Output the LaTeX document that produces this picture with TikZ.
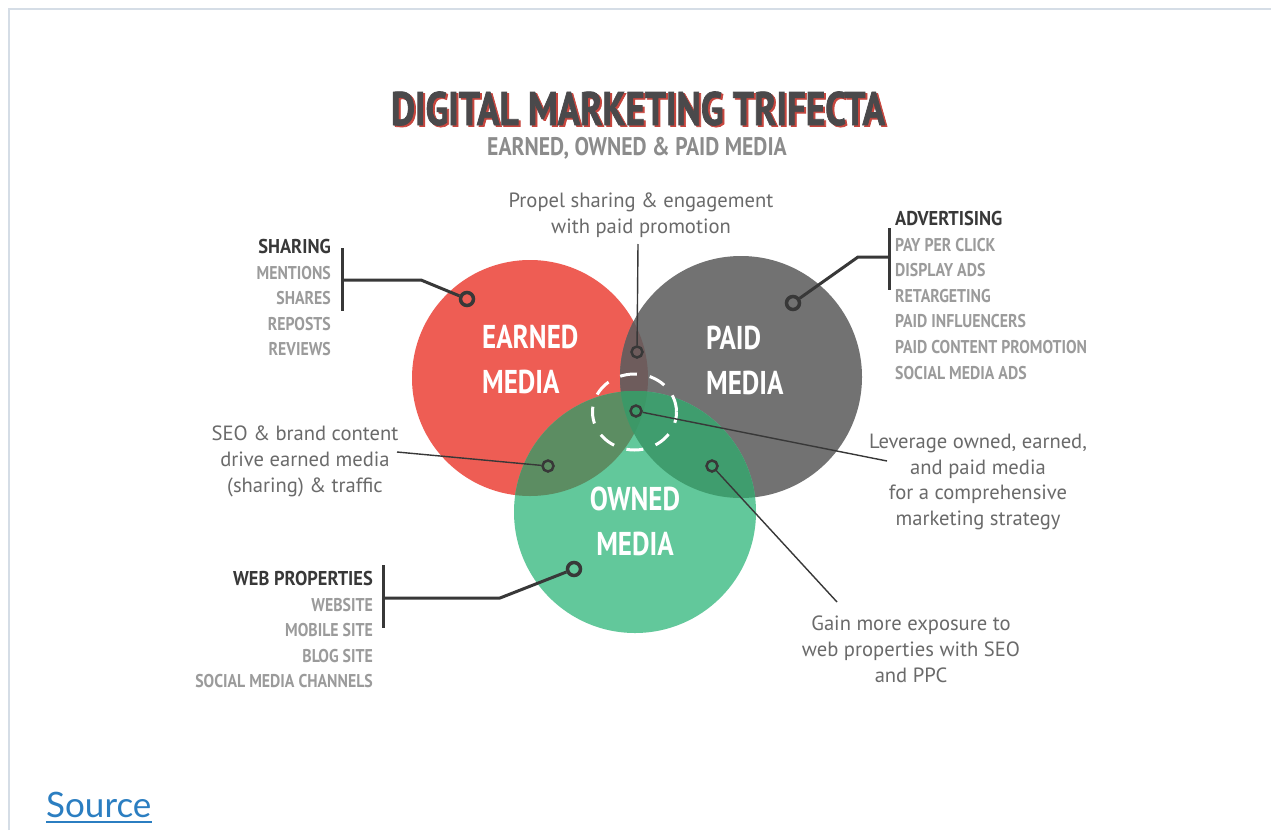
\documentclass[tikz,border=0pt]{standalone}
\usepackage{fontspec}
\setmainfont{PT Sans}
\newfontfamily\condf{PT Sans Bold}[FakeStretch=0.855]
\newfontfamily\headf{PT Sans Bold}[FakeStretch=0.92]
\newfontfamily\labf{PT Sans Bold}[FakeStretch=0.82]
\newfontfamily\titlef{PT Sans Bold}[FakeStretch=0.79,FakeBold=1.5]
\newfontfamily\subf{PT Sans Bold}[FakeStretch=0.85]
\newfontfamily\linkf{Lato}
\definecolor{cred}{HTML}{EE5D54}
\definecolor{cgrey}{HTML}{727272}
\definecolor{cgreen}{HTML}{62C89B}
\definecolor{crg}{HTML}{6E5C5C}
\definecolor{cre}{HTML}{5C8D62}
\definecolor{cge}{HTML}{3F9D6E}
\definecolor{call}{HTML}{3C9867}
\definecolor{dark}{HTML}{383838}
\definecolor{body}{HTML}{6A6A6A}
\definecolor{item}{HTML}{9B9B9B}
\definecolor{ttl}{HTML}{4A494B}
\definecolor{ttlred}{HTML}{C8463E}
\definecolor{subc}{HTML}{8C8C8C}
\definecolor{frame}{HTML}{D5DDE6}
\definecolor{linkc}{HTML}{2B7EC1}
\newcommand{\trifectatitle}{DIGITAL MARKETING TRIFECTA}
\newcommand{\lhead}[1]{\textcolor{dark}{\headf\fontsize{20}{25.6}\selectfont #1}}
\tikzset{
  bodytext/.style={inner sep=0pt, align=center, text=body, font=\fontsize{20.6}{25.6}\selectfont},
  listtext/.style={inner sep=0pt, text=item, font=\condf\fontsize{18.5}{25.6}\selectfont},
  circlab/.style={inner sep=0pt, text=white, font=\labf\fontsize{33}{45}\selectfont},
  bigring/.style={circle, draw=dark, line width=3.5pt, minimum size=13pt, inner sep=0pt},
  smallring/.style={circle, draw=dark, line width=2.5pt, minimum size=11pt, inner sep=0pt},
  bracket/.style={draw=dark, line width=3pt},
  thinline/.style={draw=dark, line width=1.4pt},
}
\begin{document}
\begin{tikzpicture}[x=1pt,y=-1pt]
\useasboundingbox (0,0) rectangle (1271,830);
\fill[white] (0,0) rectangle (1271,830);
% frame
\draw[frame, line width=1.5pt] (9,830) -- (9,9) -- (1271,9);

% circles
\fill[cred] (530,378) circle (118);
\fill[cgrey] (741,377) circle (121);
\fill[cgreen] (635,512) circle (121);
\begin{scope}
  \clip (530,378) circle (118);
  \fill[crg] (741,377) circle (121);
  \fill[cre] (635,512) circle (121);
\end{scope}
\begin{scope}
  \clip (741,377) circle (121);
  \fill[cge] (635,512) circle (121);
  \clip (530,378) circle (118);
  \fill[call] (635,512) circle (121);
\end{scope}
% dashed circle
\draw[white, line width=3pt, dash pattern=on 17pt off 13pt, dash phase=6pt] (634.5,412) ellipse (42 and 38);

% title (with red offset shadow)
\node[anchor=base, inner sep=0pt, text=ttl, font=\titlef\fontsize{47}{50}\selectfont] (title) at (638,125)
  {\rlap{\hspace*{2pt}\raisebox{-1.5pt}{\textcolor{ttlred}{\trifectatitle}}}\trifectatitle};
\node[anchor=base, inner sep=0pt, text=subc, font=\subf\fontsize{25.5}{28}\selectfont] (subtitle) at (637,155.5) {EARNED, OWNED \& PAID MEDIA};

% circle labels
\node[circlab, anchor=north west, align=left] (earned) at (482,325) {EARNED\\MEDIA};
\node[circlab, anchor=north west, align=left] (paid) at (706,326) {PAID\\MEDIA};
\node[circlab, anchor=north, align=center] (owned) at (635,487) {OWNED\\MEDIA};

% lists
\node[listtext, anchor=north east, align=right] (sharing) at (331,239)
  {\lhead{SHARING}\\MENTIONS\\SHARES\\REPOSTS\\REVIEWS};
\node[listtext, anchor=north west, align=left] (advertising) at (895,211)
  {\lhead{ADVERTISING}\\PAY PER CLICK\\DISPLAY ADS\\RETARGETING\\PAID INFLUENCERS\\PAID CONTENT PROMOTION\\SOCIAL MEDIA ADS};
\node[listtext, anchor=north east, align=right] (web) at (373,571)
  {\lhead{WEB PROPERTIES}\\WEBSITE\\MOBILE SITE\\BLOG SITE\\SOCIAL MEDIA CHANNELS};

% body texts
\node[bodytext, anchor=north] (propel) at (641,193) {Propel sharing \& engagement\\with paid promotion};
\node[bodytext, anchor=north] (seo) at (305,426) {SEO \& brand content\\drive earned media\\(sharing) \& traffic};
\node[bodytext, anchor=north] (leverage) at (978,434) {Leverage owned, earned,\\and paid media\\for a comprehensive\\marketing strategy};
\node[bodytext, anchor=north] (gain) at (911,616) {Gain more exposure to\\web properties with SEO\\and PPC};

% rings
\node[bigring] (dshare) at (467,299) {};
\node[bigring] (dpaid) at (793,303) {};
\node[bigring] (dweb) at (574,569) {};
\node[smallring] (dpropel) at (637,352) {};
\node[smallring] (dcenter) at (636,411) {};
\node[smallring] (dseo) at (548,466) {};
\node[smallring] (dgain) at (712,466) {};

% brackets
\coordinate (sbt) at (342,248);
\coordinate (sbb) at (342,311);
\coordinate (sbm) at (342,280);
\coordinate (sbk) at (421,280);
\draw[bracket] (sbt) -- (sbb);
\draw[bracket, line join=round] (sbm) -- (sbk) -- (dshare);

\coordinate (abt) at (889,228);
\coordinate (abb) at (889,290);
\coordinate (abm) at (889,257);
\coordinate (abk) at (858,257);
\draw[bracket] (abt) -- (abb);
\draw[bracket, line join=round] (abm) -- (abk) -- (dpaid);

\coordinate (wbt) at (383,565);
\coordinate (wbb) at (383,628);
\coordinate (wbm) at (383,598);
\coordinate (wbk) at (500,598);
\draw[bracket] (wbt) -- (wbb);
\draw[bracket, line join=round] (wbm) -- (wbk) -- (dweb);

% thin connectors
\coordinate (pend) at (638,244);
\coordinate (send) at (397,452);
\coordinate (lend) at (887,461);
\coordinate (gend) at (837,602);
\draw[thinline] (pend) -- (dpropel);
\draw[thinline] (send) -- (dseo);
\draw[thinline] (lend) -- (dcenter);
\draw[thinline] (gend) -- (dgain);

% source link
\node[anchor=base west, inner sep=0pt, text=linkc, font=\linkf\fontsize{35}{38}\selectfont] (source) at (46,817) {Source};
\draw[linkc, line width=1.6pt] ([yshift=-5pt]source.base west) coordinate (ul1) -- ([yshift=-5pt]source.base east) coordinate (ul2);
\end{tikzpicture}
\end{document}
